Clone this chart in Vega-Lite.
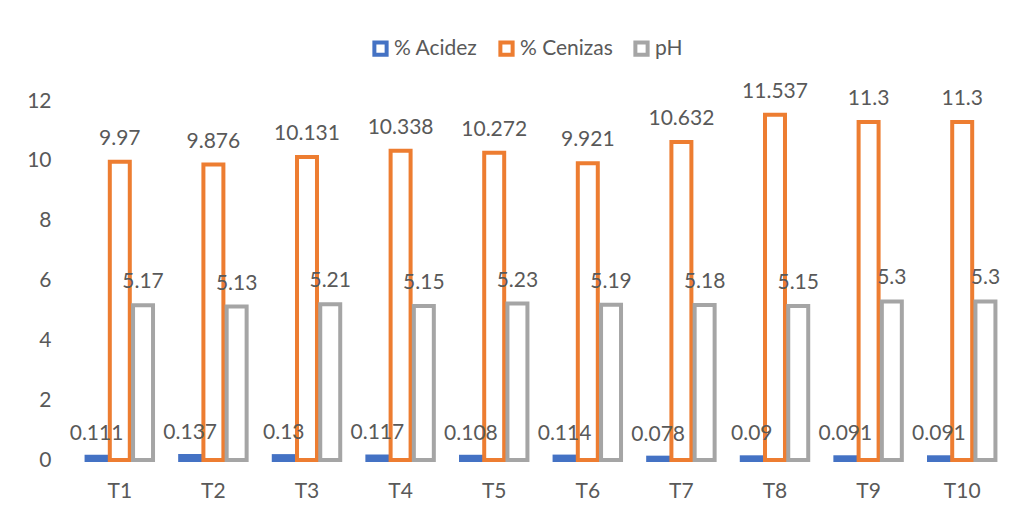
{
  "$schema": "https://vega.github.io/schema/vega-lite/v6.json",
  "autosize": {"type": "none"},
  "width": 936,
  "height": 359,
  "padding": {"left": 73, "top": 101, "right": 21, "bottom": 55},
  "background": "white",
  "config": {
    "view": {"stroke": null},
    "font": "Lato",
    "axis": {"labelFont": "Lato", "labelColor": "#595959", "labelFontSize": 21, "grid": false, "domain": false, "ticks": false, "title": null},
    "legend": {"labelFont": "Lato", "labelColor": "#595959", "labelFontSize": 21}
  },
  "data": {
    "values": [
      {"t": "T1", "serie": "% Acidez", "v": 0.111},
      {"t": "T2", "serie": "% Acidez", "v": 0.137},
      {"t": "T3", "serie": "% Acidez", "v": 0.13},
      {"t": "T4", "serie": "% Acidez", "v": 0.117},
      {"t": "T5", "serie": "% Acidez", "v": 0.108},
      {"t": "T6", "serie": "% Acidez", "v": 0.114},
      {"t": "T7", "serie": "% Acidez", "v": 0.078},
      {"t": "T8", "serie": "% Acidez", "v": 0.09},
      {"t": "T9", "serie": "% Acidez", "v": 0.091},
      {"t": "T10", "serie": "% Acidez", "v": 0.091},
      {"t": "T1", "serie": "% Cenizas", "v": 9.97},
      {"t": "T2", "serie": "% Cenizas", "v": 9.876},
      {"t": "T3", "serie": "% Cenizas", "v": 10.131},
      {"t": "T4", "serie": "% Cenizas", "v": 10.338},
      {"t": "T5", "serie": "% Cenizas", "v": 10.272},
      {"t": "T6", "serie": "% Cenizas", "v": 9.921},
      {"t": "T7", "serie": "% Cenizas", "v": 10.632},
      {"t": "T8", "serie": "% Cenizas", "v": 11.537},
      {"t": "T9", "serie": "% Cenizas", "v": 11.3},
      {"t": "T10", "serie": "% Cenizas", "v": 11.3},
      {"t": "T1", "serie": "pH", "v": 5.17},
      {"t": "T2", "serie": "pH", "v": 5.13},
      {"t": "T3", "serie": "pH", "v": 5.21},
      {"t": "T4", "serie": "pH", "v": 5.15},
      {"t": "T5", "serie": "pH", "v": 5.23},
      {"t": "T6", "serie": "pH", "v": 5.19},
      {"t": "T7", "serie": "pH", "v": 5.18},
      {"t": "T8", "serie": "pH", "v": 5.15},
      {"t": "T9", "serie": "pH", "v": 5.3},
      {"t": "T10", "serie": "pH", "v": 5.3}
    ]
  },
  "encoding": {
    "x": {"field": "t", "type": "nominal", "sort": null, "scale": {"paddingInner": 0.29, "paddingOuter": 0.145}, "axis": {"labelAngle": 0, "labelPadding": 20}},
    "xOffset": {"field": "serie", "type": "nominal", "sort": null, "scale": {"paddingInner": 0.14, "paddingOuter": 0}},
    "y": {"field": "v", "type": "quantitative", "scale": {"domain": [0, 12], "nice": false}, "axis": {"values": [0, 2, 4, 6, 8, 10, 12], "labelPadding": 22}}
  },
  "layer": [
    {
      "mark": {"type": "bar", "fill": "white", "strokeWidth": 4},
      "encoding": {
        "stroke": {
          "field": "serie", "type": "nominal", "sort": null,
          "scale": {"domain": ["% Acidez", "% Cenizas", "pH"], "range": ["#4472C4", "#ED7D31", "#A5A5A5"]},
          "legend": {"title": null, "orient": "none", "direction": "horizontal", "legendX": 297, "legendY": -63, "symbolType": "square", "symbolSize": 150, "symbolStrokeWidth": 4, "symbolFillColor": "white", "columnPadding": 14, "labelOffset": 3}
        }
      }
    },
    {
      "mark": {"type": "text", "baseline": "middle", "dy": -23, "fontSize": 21, "color": "#595959"},
      "encoding": {"text": {"field": "v", "type": "quantitative"}}
    }
  ]
}
